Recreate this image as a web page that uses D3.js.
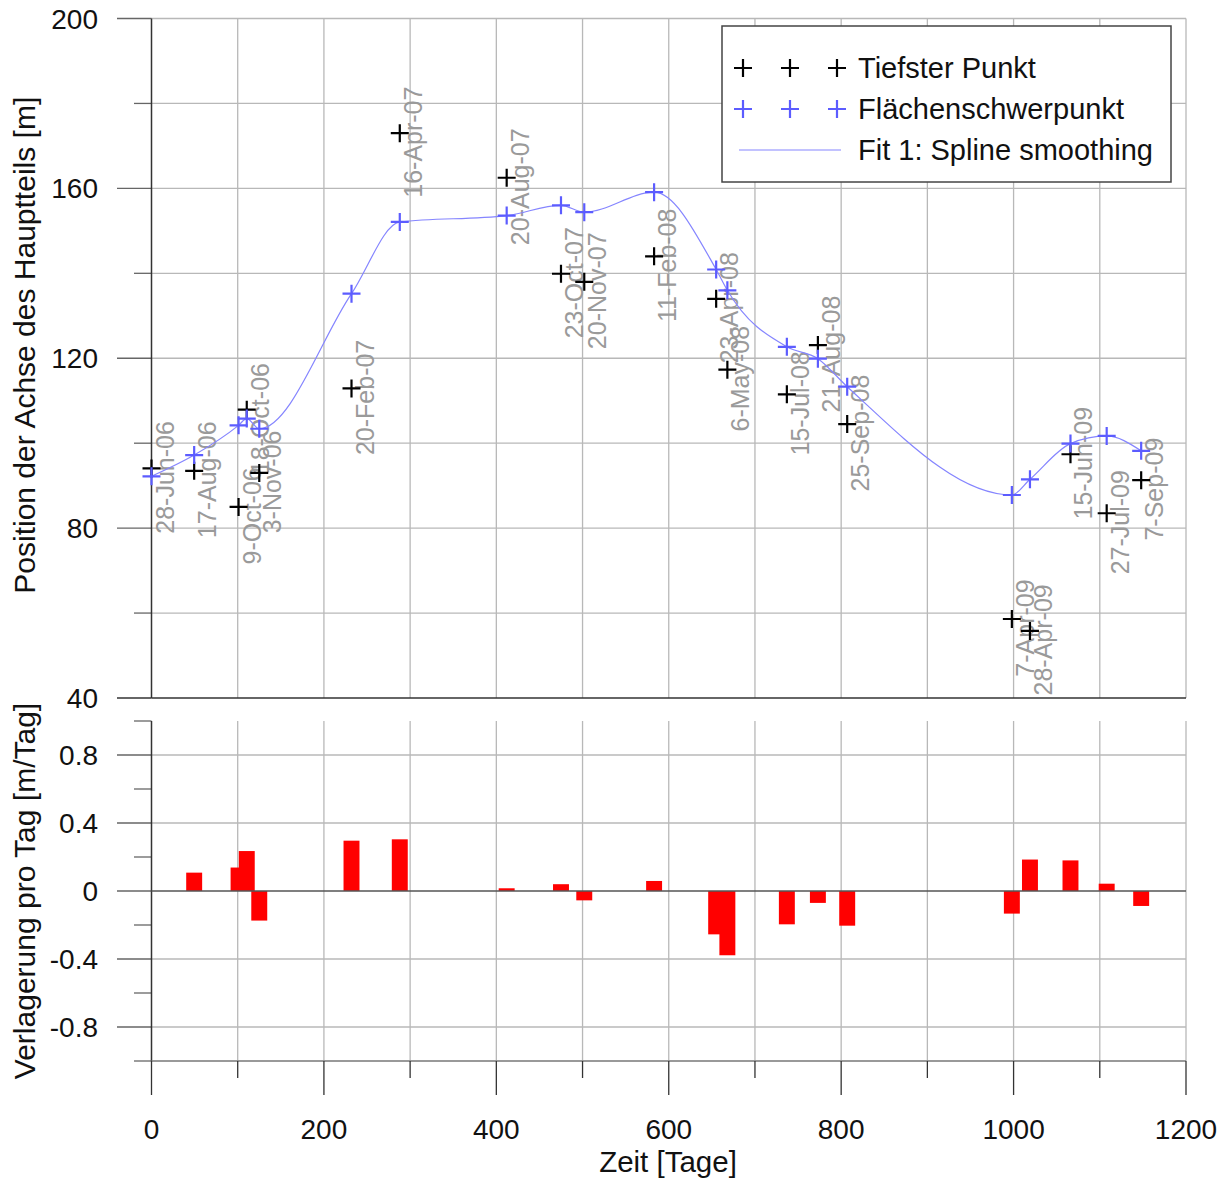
<!DOCTYPE html>
<html>
<head>
<meta charset="utf-8">
<script src="https://cdn.jsdelivr.net/npm/d3@7"></script>
<style>
  body { margin: 0; background: #fff; }
  svg { font-family: Arial, "Liberation Sans", sans-serif; }
</style>
</head>
<body>
<div id="chart"></div>
<script>
const days = [0, 49.5, 101, 110.5, 125, 232, 288, 412, 475, 502, 583, 655, 668, 737, 773, 807, 998, 1019, 1066, 1108, 1148];
const dateLabels = ['28-Jun-06', '17-Aug-06', '9-Oct-06', '18-Oct-06', '3-Nov-06', '20-Feb-07', '16-Apr-07', '20-Aug-07',
  '23-Oct-07', '20-Nov-07', '11-Feb-08', '23-Apr-08', '6-May-08', '15-Jul-08', '21-Aug-08', '25-Sep-08',
  '7-Apr-09', '28-Apr-09', '15-Jun-09', '27-Jul-09', '7-Sep-09'];
const tiefsterPunkt = [94.05, 93.5, 85.0, 107.9, 93.0, 112.9, 173.0, 162.5, 139.9, 138.0, 144.0, 134.0, 117.3, 111.5, 123.1, 104.5, 58.6, 55.8, 97.4, 83.5, 91.3];
const schwerpunkt = [92.2, 97.2, 104.2, 105.8, 103.4, 135.2, 152.1, 153.6, 156.0, 154.4, 159.1, 140.9, 136.0, 122.7, 119.9, 113.3, 87.8, 91.5, 99.9, 101.7, 98.2];
// displacement per day, one bar per observation after the first
const verlagerung = [0.108, 0.138, 0.235, -0.174, 0.296, 0.304, 0.016, 0.040, -0.055, 0.059, -0.255, -0.378, -0.196, -0.070, -0.204, -0.133, 0.185, 0.180, 0.043, -0.088];

const xTicks = [0, 200, 400, 600, 800, 1000, 1200];
const topTicks = [40, 80, 120, 160, 200];
const botTicks = [-0.8, -0.4, 0, 0.4, 0.8];

const width = 1227, height = 1180;
const svg = d3.select('#chart').append('svg').attr('width', width).attr('height', height);

const x = d3.scaleLinear().domain([0, 1200]).range([151.5, 1186]);
const yTop = d3.scaleLinear().domain([40, 200]).range([698, 18.5]);
const yBot = d3.scaleLinear().domain([-1, 1]).range([1061, 721]);

const gridColor = '#b8b8b8';
const axisColor = '#333';
const blue = '#5c5cff';

// ---------- grids ----------
const grid = svg.append('g').attr('stroke', gridColor).attr('stroke-width', 1.3);
const xGrid = d3.range(100, 1201, 100);
grid.selectAll('.vt').data(xGrid).join('line')
  .attr('x1', d => x(d)).attr('x2', d => x(d))
  .attr('y1', yTop(200)).attr('y2', yTop(40));
grid.selectAll('.vb').data(xGrid).join('line')
  .attr('x1', d => x(d)).attr('x2', d => x(d))
  .attr('y1', yBot(1)).attr('y2', yBot(-1));
grid.selectAll('.ht').data(d3.range(60, 201, 20)).join('line')
  .attr('x1', x(0)).attr('x2', x(1200))
  .attr('y1', d => yTop(d)).attr('y2', d => yTop(d));
grid.selectAll('.hb').data([-1, -0.8, -0.4, 0.4, 0.8]).join('line')
  .attr('x1', x(0)).attr('x2', x(1200))
  .attr('y1', d => yBot(d)).attr('y2', d => yBot(d));

// ---------- top axis (left) ----------
const topAxis = svg.append('g');
topAxis.selectAll('.tk').data(d3.range(40, 201, 20)).join('line')
  .attr('x1', d => topTicks.includes(d) ? 117 : 134).attr('x2', x(0))
  .attr('y1', d => yTop(d)).attr('y2', d => yTop(d))
  .attr('stroke', d => d === 40 ? axisColor : '#666').attr('stroke-width', 1.3);
topAxis.append('line')
  .attr('x1', x(0)).attr('x2', x(0)).attr('y1', yTop(200)).attr('y2', yTop(40))
  .attr('stroke', axisColor).attr('stroke-width', 1.5);
topAxis.append('line')
  .attr('x1', x(0)).attr('x2', x(1200)).attr('y1', yTop(40)).attr('y2', yTop(40))
  .attr('stroke', axisColor).attr('stroke-width', 1.3);
topAxis.selectAll('text').data(topTicks).join('text')
  .attr('x', 98).attr('y', d => yTop(d) + 10)
  .attr('text-anchor', 'end').attr('font-size', 28).attr('fill', '#111')
  .text(d => d);

// ---------- bottom axis (left + x) ----------
const botAxis = svg.append('g');
botAxis.selectAll('.tk').data(d3.range(-10, 11, 2).map(d => d / 10)).join('line')
  .attr('x1', d => botTicks.some(t => Math.abs(t - d) < 1e-9) ? 117 : 134).attr('x2', x(0))
  .attr('y1', d => yBot(d)).attr('y2', d => yBot(d))
  .attr('stroke', '#666').attr('stroke-width', 1.3);
botAxis.append('line')
  .attr('x1', x(0)).attr('x2', x(0)).attr('y1', yBot(1)).attr('y2', yBot(-1))
  .attr('stroke', axisColor).attr('stroke-width', 1.5);
botAxis.append('line')
  .attr('x1', x(0)).attr('x2', x(1200)).attr('y1', yBot(-1)).attr('y2', yBot(-1))
  .attr('stroke', '#888').attr('stroke-width', 1.3);
botAxis.selectAll('text').data(botTicks).join('text')
  .attr('x', 98).attr('y', d => yBot(d) + 10)
  .attr('text-anchor', 'end').attr('font-size', 28).attr('fill', '#111')
  .text(d => d === 0 ? '0' : d.toFixed(1));

botAxis.selectAll('.xt').data(d3.range(0, 1201, 100)).join('line')
  .attr('x1', d => x(d)).attr('x2', d => x(d))
  .attr('y1', yBot(-1)).attr('y2', d => d % 200 === 0 ? 1095 : 1078)
  .attr('stroke', '#333').attr('stroke-width', 1.3);
botAxis.selectAll('.xl').data(xTicks).join('text')
  .attr('x', d => x(d)).attr('y', 1139)
  .attr('text-anchor', 'middle').attr('font-size', 28).attr('fill', '#111')
  .text(d => d);

// axis titles
svg.append('text')
  .attr('x', 668).attr('y', 1172).attr('text-anchor', 'middle')
  .attr('font-size', 29.5).attr('fill', '#111').text('Zeit [Tage]');
svg.append('text')
  .attr('transform', `translate(35,${yTop(120) - 13}) rotate(-90)`)
  .attr('text-anchor', 'middle').attr('font-size', 30).attr('fill', '#111')
  .text('Position der Achse des Hauptteils [m]');
svg.append('text')
  .attr('transform', `translate(35,${yBot(0)}) rotate(-90)`)
  .attr('text-anchor', 'middle').attr('font-size', 30).attr('fill', '#111')
  .text('Verlagerung pro Tag [m/Tag]');

// ---------- top plot content ----------
const pts = days.map((d, i) => ({ day: d, low: tiefsterPunkt[i], cen: schwerpunkt[i], label: dateLabels[i] }));

// date labels
svg.append('g').selectAll('text').data(pts).join('text')
  .attr('transform', d => `translate(${x(d.day) + 22},${yTop(d.low) + 9}) rotate(-90)`)
  .attr('text-anchor', 'middle').attr('font-size', 25).attr('fill', '#9a9a9a')
  .text(d => d.label);

// spline fit
const fit = d3.line().x(d => x(d.day)).y(d => yTop(d.cen)).curve(d3.curveMonotoneX);
svg.append('path').datum(pts).attr('d', fit)
  .attr('fill', 'none').attr('stroke', '#8585ff').attr('stroke-width', 1.2);

const plus = 'M-9,0H9M0,-9V9';
svg.append('g').selectAll('path').data(pts).join('path')
  .attr('transform', d => `translate(${x(d.day)},${yTop(d.low)})`)
  .attr('d', plus).attr('stroke', '#000').attr('stroke-width', 2.2).attr('fill', 'none');
svg.append('g').selectAll('path').data(pts).join('path')
  .attr('transform', d => `translate(${x(d.day)},${yTop(d.cen)})`)
  .attr('d', plus).attr('stroke', blue).attr('stroke-width', 2.2).attr('fill', 'none');

// ---------- bottom plot bars ----------
const bars = days.slice(1).map((d, i) => ({ day: d, v: verlagerung[i] }));
const barW = x(18.5) - x(0);
svg.append('g').selectAll('rect').data(bars).join('rect')
  .attr('x', d => x(d.day) - barW / 2)
  .attr('width', barW)
  .attr('y', d => yBot(Math.max(0, d.v)))
  .attr('height', d => Math.abs(yBot(d.v) - yBot(0)))
  .attr('fill', '#ff0000');

svg.append('line')
  .attr('x1', x(0)).attr('x2', x(1200)).attr('y1', yBot(0)).attr('y2', yBot(0))
  .attr('stroke', '#555').attr('stroke-width', 1.5);

// ---------- legend ----------
const lg = svg.append('g');
lg.append('rect').attr('x', 722).attr('y', 26).attr('width', 449).attr('height', 156)
  .attr('fill', '#fff').attr('stroke', '#444').attr('stroke-width', 1.5);
const legendRows = [
  { name: 'Tiefster Punkt', color: '#000', type: 'marker' },
  { name: 'Flächenschwerpunkt', color: blue, type: 'marker' },
  { name: 'Fit 1: Spline smoothing', color: '#8585ff', type: 'line' }
];
legendRows.forEach((r, i) => {
  const cy = 68 + i * 41;
  if (r.type === 'marker') {
    [743, 790, 837].forEach(mx => {
      lg.append('path').attr('transform', `translate(${mx},${cy})`)
        .attr('d', plus).attr('stroke', r.color).attr('stroke-width', 2.2).attr('fill', 'none');
    });
  } else {
    lg.append('line').attr('x1', 739).attr('x2', 841).attr('y1', cy).attr('y2', cy)
      .attr('stroke', r.color).attr('stroke-width', 1.2);
  }
  lg.append('text').attr('x', 858).attr('y', cy + 10)
    .attr('font-size', 29).attr('fill', '#111').text(r.name);
});
</script>
</body>
</html>
